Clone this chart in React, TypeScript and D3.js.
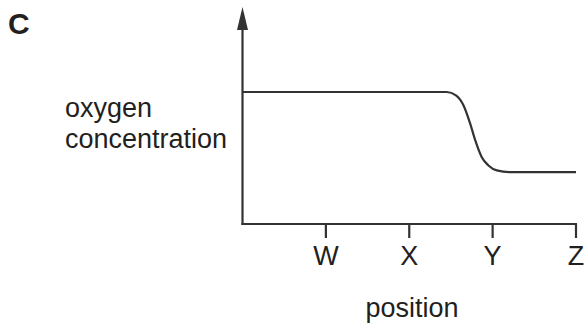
import React from "react";
import * as d3 from "d3";

const positions = ["W", "X", "Y", "Z"];
const tickValues = [1, 2, 3, 4];
const curveX = [0, 2.45, 2.56, 2.65, 2.73, 2.79, 2.87, 2.95, 3.05, 3.2, 4];
const curveY = [8, 8, 7.8, 7.2, 6.1, 5.1, 4.05, 3.55, 3.25, 3.15, 3.15];
const panelLabel = "C";
const yLabel = ["oxygen", "concentration"];
const xLabel = "position";

const W = 584;
const H = 329;
const ox = 242.5;
const oy = 224;
const ink = "#231f20";
const lineCol = "#333333";
const font = "'Liberation Sans', Arial, sans-serif";

export default function App() {
  const x = d3.scaleLinear().domain([0, 4]).range([ox, 576]);
  const y = d3.scaleLinear().domain([0, 12]).range([oy, 26]);
  const pts: [number, number][] = curveX.map((v, i) => [v, curveY[i]]);
  const line = d3
    .line<[number, number]>()
    .x((d) => x(d[0]))
    .y((d) => y(d[1]))
    .curve(d3.curveMonotoneX);

  return (
    <svg
      width={W}
      height={H}
      style={{ position: "absolute", left: 0, top: 0, background: "#fff" }}
    >
      <rect width={W} height={H} fill="#fff" />
      <text x={8} y={34} fontFamily={font} fontWeight="bold" fontSize={30} fill={ink}>
        {panelLabel}
      </text>
      {yLabel.map((t, i) => (
        <text key={t} x={65} y={117 + i * 31} fontFamily={font} fontSize={27} fill={ink}>
          {t}
        </text>
      ))}
      {/* y axis */}
      <line x1={ox} x2={ox} y1={28} y2={oy + 1} stroke={lineCol} strokeWidth={2.2} />
      <path d={`M${ox},7 L${ox - 5.5},30 L${ox + 5.5},30 Z`} fill={lineCol} />
      {/* x axis */}
      <line x1={ox - 1.1} x2={x(4) + 1} y1={oy} y2={oy} stroke={lineCol} strokeWidth={2.2} />
      {tickValues.map((v, i) => (
        <g key={v}>
          <line x1={x(v)} x2={x(v)} y1={oy} y2={oy + 14} stroke={lineCol} strokeWidth={2.2} />
          <text
            x={x(v)}
            y={265}
            textAnchor="middle"
            fontFamily={font}
            fontSize={27}
            fill={ink}
          >
            {positions[i]}
          </text>
        </g>
      ))}
      <text x={412} y={317} textAnchor="middle" fontFamily={font} fontSize={27} fill={ink}>
        {xLabel}
      </text>
      <path d={line(pts) || ""} fill="none" stroke={lineCol} strokeWidth={2.2} />
    </svg>
  );
}
